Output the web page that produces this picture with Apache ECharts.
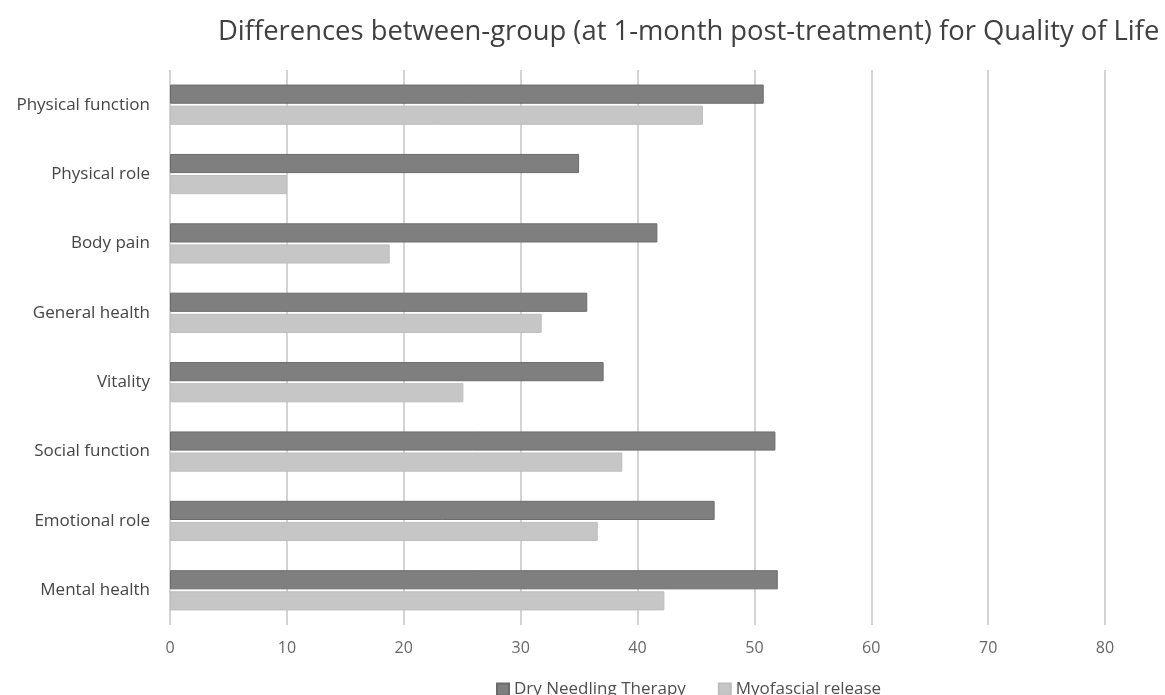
<!DOCTYPE html>
<html>
<head>
<meta charset="utf-8">
<script src="https://cdn.jsdelivr.net/npm/echarts@6/dist/echarts.min.js"></script>
<style>
  html, body { margin: 0; padding: 0; background: #ffffff; }
  #chart { width: 1165px; height: 695px; }
</style>
</head>
<body>
<div id="chart"></div>
<script>
// Quality of Life domains, listed top to bottom
const categories = [
  'Physical function', 'Physical role', 'Body pain', 'General health',
  'Vitality', 'Social function', 'Emotional role', 'Mental health'
];
const dryNeedling = [50.8, 35.0, 41.7, 35.7, 37.1, 51.8, 46.6, 52.0];
const myofascial  = [45.6, 10.0, 18.8, 31.8, 25.1, 38.7, 36.6, 42.3];
const seriesNames = ['Dry Needling Therapy', 'Myofascial release'];
const titleText = 'Differences between-group (at 1-month post-treatment) for Quality of Life';

const font = '"Open Sans", "Noto Sans", sans-serif';
const chart = echarts.init(document.getElementById('chart'));

chart.setOption({
  backgroundColor: '#ffffff',
  animation: false,
  title: {
    text: titleText,
    left: 213,
    top: 14,
    textStyle: { fontFamily: font, fontSize: 27.4, fontWeight: 'normal', color: '#404040' }
  },
  legend: {
    data: seriesNames,
    left: 491,
    top: 676,
    itemWidth: 12,
    itemHeight: 12,
    itemGap: 32,
    icon: 'rect',
    textStyle: { fontFamily: font, fontSize: 17, color: '#4f4f4f' }
  },
  grid: { left: 170, right: 60, top: 70, bottom: 70, containLabel: false },
  xAxis: {
    type: 'value',
    min: 0,
    max: 80,
    interval: 10,
    axisLine: { show: false },
    axisTick: { show: false },
    axisLabel: { fontFamily: font, fontSize: 16, color: '#666666', margin: 15 },
    splitLine: { lineStyle: { color: '#d4d4d4', width: 2 } }
  },
  yAxis: {
    type: 'category',
    data: categories,
    inverse: true,
    axisLine: { show: false },
    axisTick: { show: false },
    axisLabel: { fontFamily: font, fontSize: 17, color: '#454545', margin: 20 }
  },
  series: [
    {
      name: seriesNames[0],
      type: 'bar',
      data: dryNeedling,
      barGap: '10%',
      barCategoryGap: '42%',
      itemStyle: { color: '#7f7f7f', borderColor: '#6b6b6b', borderWidth: 1 }
    },
    {
      name: seriesNames[1],
      type: 'bar',
      data: myofascial,
      itemStyle: { color: '#c6c6c6', borderColor: '#bdbdbd', borderWidth: 1 }
    }
  ]
});
</script>
</body>
</html>
